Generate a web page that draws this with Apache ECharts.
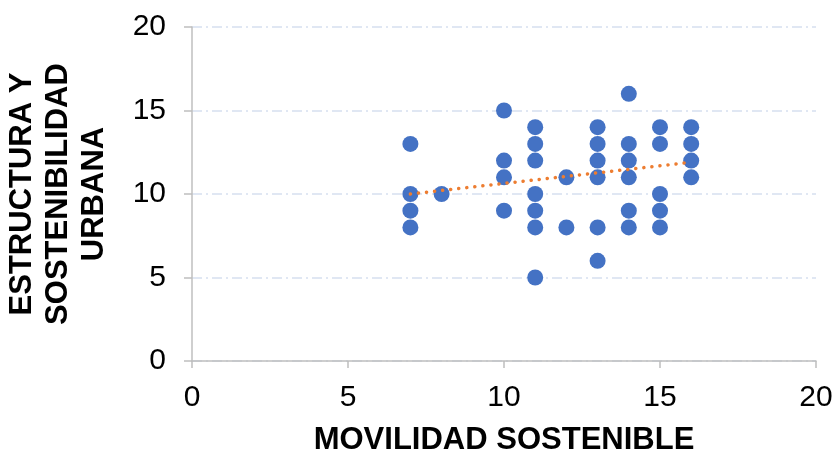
<!DOCTYPE html>
<html>
<head>
<meta charset="utf-8">
<script src="https://cdn.jsdelivr.net/npm/echarts@6/dist/echarts.min.js"></script>
<style>
  html, body { margin: 0; padding: 0; background: #fff; }
  #chart { width: 835px; height: 456px; }
</style>
</head>
<body>
<div id="chart"></div>
<script>
// data (overlapping points appear once)
var movilidad   = [7, 7, 7, 7, 8, 10, 10, 10, 10, 11, 11, 11, 11, 11, 11, 11, 12, 12,
                   13, 13, 13, 13, 13, 13, 14, 14, 14, 14, 14, 14, 15, 15, 15, 15, 15,
                   16, 16, 16, 16];
var estructura  = [13, 10, 9, 8, 10, 15, 12, 11, 9, 14, 13, 12, 10, 9, 8, 5, 11, 8,
                   14, 13, 12, 11, 8, 6, 16, 13, 12, 11, 9, 8, 14, 13, 10, 9, 8,
                   14, 13, 12, 11];
var trendX = [7, 16];
var trendY = [10.0, 11.9];
var axisTicks = [0, 5, 10, 15, 20];

var points = movilidad.map(function (x, i) { return [x, estructura[i]]; });
var trend = trendX.map(function (x, i) { return [x, trendY[i]]; });

var chart = echarts.init(document.getElementById('chart'));

var gridLine = {
  show: true,
  lineStyle: { color: '#d6e0f0', width: 1.5, type: [10, 4, 2, 4] }
};

chart.setOption({
  animation: false,
  textStyle: { fontFamily: 'Liberation Sans, Arial, sans-serif' },
  grid: { left: 192, right: 19, top: 27, bottom: 95, outerBoundsMode: 'none', containLabel: false },
  xAxis: {
    type: 'value',
    min: axisTicks[0],
    max: axisTicks[axisTicks.length - 1],
    interval: 5,
    name: 'MOVILIDAD SOSTENIBLE',
    nameLocation: 'middle',
    nameGap: 64,
    nameTextStyle: { fontSize: 31, fontWeight: 'bold', color: '#000' },
    axisLine: { show: true, lineStyle: { color: '#bfbfbf', width: 1.5 } },
    axisTick: { show: true, length: 7, lineStyle: { color: '#bfbfbf', width: 1.5 } },
    axisLabel: { fontSize: 30, color: '#000', margin: 22 },
    splitLine: { show: false }
  },
  yAxis: {
    type: 'value',
    min: axisTicks[0],
    max: axisTicks[axisTicks.length - 1],
    interval: 5,
    name: 'ESTRUCTURA Y\nSOSTENIBILIDAD\nURBANA',
    nameLocation: 'middle',
    nameRotate: 90,
    nameGap: 80,
    nameTextStyle: { fontSize: 31, fontWeight: 'bold', color: '#000', lineHeight: 36, align: 'center' },
    axisLine: { show: true, lineStyle: { color: '#bfbfbf', width: 1.5 } },
    axisTick: { show: true, length: 8, lineStyle: { color: '#bfbfbf', width: 1.5 } },
    axisLabel: { fontSize: 30, color: '#000', margin: 26 },
    splitLine: gridLine
  },
  series: [{
    type: 'scatter',
    data: points,
    symbol: 'circle',
    symbolSize: 16,
    itemStyle: { color: '#4472c4', opacity: 1 },
    z: 2
  }, {
    type: 'line',
    data: trend,
    showSymbol: false,
    symbol: 'none',
    lineStyle: { color: '#ed7d31', width: 3.5, type: [0.1, 8], cap: 'round' },
    z: 3
  }]
});
</script>
</body>
</html>
